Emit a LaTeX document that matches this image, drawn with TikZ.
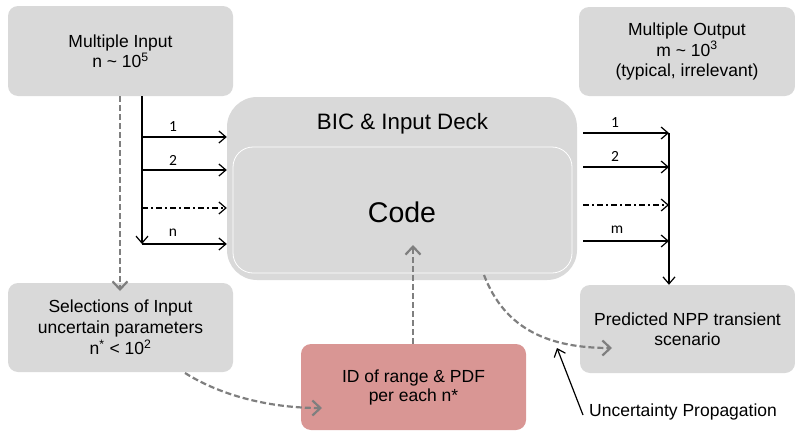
\documentclass[tikz,border=0pt]{standalone}
\usepackage{fontspec}
\setmainfont{Liberation Sans}
\newfontfamily\numfont{Carlito}
\usetikzlibrary{arrows.meta}

\definecolor{boxgray}{HTML}{D9D9D9}
\definecolor{pdfred}{HTML}{D99694}
\definecolor{linkgray}{HTML}{7F7F7F}

\begin{document}
\begin{tikzpicture}[x=1pt,y=-1pt,
  box/.style={fill=boxgray, rounded corners=10pt, align=center, inner sep=0pt,
    font=\fontsize{17.5}{20.5}\selectfont},
  txt/.style={inner sep=0pt, font=\fontsize{17.5}{20.5}\selectfont},
  flow/.style={line width=1.2pt, -{Straight Barb[length=7pt,width=12pt,line width=1.2pt]}},
  dashdot/.style={dash pattern=on 6pt off 3pt on 2pt off 3pt},
  idx/.style={inner sep=0pt, font=\numfont\fontsize{15.5}{15.5}\selectfont},
  link/.style={linkgray, line width=2.2pt, dash pattern=on 6pt off 3pt,
    -{Straight Barb[length=8pt,width=15pt,line width=2.2pt]}}
]
\useasboundingbox (0,0) rectangle (795,431);

% input / output boxes
\node[box, minimum width=225pt, minimum height=90pt] (in) at (120.5,51)
  {Multiple Input\\n \textasciitilde{} 10\textsuperscript{5}};
\node[box, minimum width=216pt, minimum height=89pt] (out) at (687,51.5)
  {Multiple Output\\m \textasciitilde{} 10\textsuperscript{3}\\(typical, irrelevant)};
\node[box, minimum width=225pt, minimum height=89pt,
  font=\fontsize{17.5}{21}\selectfont] (sel) at (120.5,327.5)
  {Selections of Input\\uncertain parameters\\n\textsuperscript{*} < 10\textsuperscript{2}};
\node[box, minimum width=215pt, minimum height=88pt] (pred) at (687.5,329)
  {Predicted NPP transient\\scenario};
\node[box, fill=pdfred, minimum width=225pt, minimum height=86pt,
  font=\fontsize{17.5}{19}\selectfont] (pdf) at (413.5,387)
  {ID of range \& PDF\\per each n*};

% input deck with the code inside
\node[fill=boxgray, rounded corners=30pt, minimum width=350pt, minimum height=183pt]
  (deck) at (402,188.5) {};
\node[inner sep=0pt, font=\fontsize{22.3}{24}\selectfont] (decktitle) at (402.5,124)
  {BIC \& Input Deck};
\node[fill=boxgray, draw=white, line width=0.8pt, rounded corners=20pt,
  minimum width=339pt, minimum height=126pt] (code) at (402.5,210) {};
\node[inner sep=0pt, font=\fontsize{28.5}{30}\selectfont] (codetitle) at (402,212) {Code};

% input bus
\coordinate (lt) at (142,96);
\coordinate (l1) at (142,137);
\coordinate (l2) at (142,170);
\coordinate (l3) at (142,208);
\coordinate (l4) at (142,244);
\draw[flow] (lt) -- (l4);
\draw[flow] (l1) -- (l1 -| deck.west);
\draw[flow] (l2) -- (l2 -| deck.west);
\draw[flow, dashdot] (l3) -- (l3 -| deck.west);
\draw[flow] (l4) -- (l4 -| deck.west);
\node[idx] (li1) at (173,127) {1};
\node[idx] (li2) at (173,160) {2};
\node[idx] (li3) at (173,233) {n};

% output bus
\coordinate (rt) at (669,133);
\coordinate (r1) at (583,133);
\coordinate (r2) at (583,167);
\coordinate (r3) at (583,205);
\coordinate (r4) at (583,241);
\draw[flow] (rt) -- (rt |- pred.north);
\draw[flow] (r1) -- (r1 -| rt);
\draw[flow] (r2) -- (r2 -| rt);
\draw[flow, dashdot] (r3) -- (r3 -| rt);
\draw[flow] (r4) -- (r4 -| rt);
\node[idx] (ri1) at (615,123) {1};
\node[idx] (ri2) at (615,156) {2};
\node[idx] (ri3) at (617,230) {m};

% uncertainty links
\coordinate (selin) at (120,291);
\draw[link] (in.south -| selin) -- (selin);
\coordinate (codein) at (413,245);
\draw[link] (pdf.north -| codein) -- (codein);
\coordinate (selout) at (185,373);
\coordinate (pdfin) at (322,408);
\draw[link] (selout) .. controls (225,398) and (275,408) .. (pdfin);
\coordinate (codeout) at (484,275);
\coordinate (predin) at (612,348);
\draw[link] (codeout) .. controls (505,330) and (550,348) .. (predin);

% annotation
\node[txt, anchor=west] (prop) at (589,412) {Uncertainty Propagation};
\coordinate (proptip) at (557,348);
\draw[flow] ([xshift=-6pt,yshift=-3pt]prop.west) -- (proptip);
\end{tikzpicture}
\end{document}
